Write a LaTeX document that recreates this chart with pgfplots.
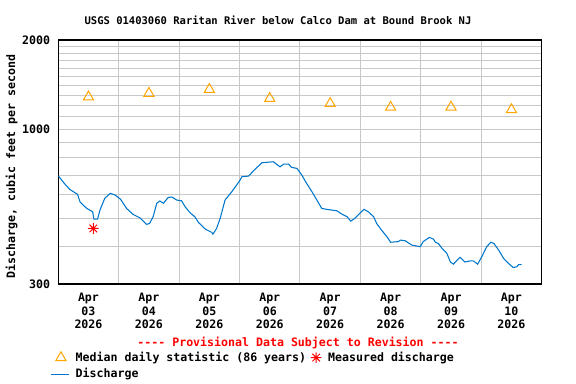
\documentclass[border=0pt]{standalone}
\usepackage{fontspec}
\setmainfont{DejaVu Sans Mono}[Ligatures=TeXOff]
\usepackage{pgfplots}
\pgfplotsset{compat=1.18}

\definecolor{qblue}{RGB}{0,119,204}
\definecolor{qorange}{RGB}{255,165,0}
\definecolor{qgrid}{RGB}{200,200,200}

% eight-armed star like the USGS measured-discharge symbol
\pgfdeclareplotmark{usgsstar}{%
  \pgfpathmoveto{\pgfqpoint{-\pgfplotmarksize}{0pt}}\pgfpathlineto{\pgfqpoint{\pgfplotmarksize}{0pt}}%
  \pgfpathmoveto{\pgfqpoint{0pt}{-\pgfplotmarksize}}\pgfpathlineto{\pgfqpoint{0pt}{\pgfplotmarksize}}%
  \pgfpathmoveto{\pgfpointpolar{45}{\pgfplotmarksize}}\pgfpathlineto{\pgfpointpolar{225}{\pgfplotmarksize}}%
  \pgfpathmoveto{\pgfpointpolar{135}{\pgfplotmarksize}}\pgfpathlineto{\pgfpointpolar{315}{\pgfplotmarksize}}%
  \pgfusepathqstroke}

\pgfplotsset{shortline/.style={legend image code/.code={\draw[qblue, line width=0.8pt] (0.05cm,0cm) -- (0.5cm,0cm);}}}

\newcommand{\gd}{\fontsize{8.7}{10}\selectfont\bfseries}

\begin{document}
\begin{tikzpicture}
\path[use as bounding box] (-43.7pt,-75pt) rectangle (388.3pt,213pt);
\begin{axis}[
    at={(0,0)}, anchor=south west,
    scale only axis, width=362.55pt, height=183pt,
    xmin=0, xmax=8,
    ymode=log, ymin=300, ymax=2000,
    xtick={0.5,1.5,2.5,3.5,4.5,5.5,6.5,7.5},
    xticklabels={{Apr\\03\\2026},{Apr\\04\\2026},{Apr\\05\\2026},{Apr\\06\\2026},
                 {Apr\\07\\2026},{Apr\\08\\2026},{Apr\\09\\2026},{Apr\\10\\2026}},
    minor xtick={1,2,3,4,5,6,7},
    ytick={300,1000,2000},
    yticklabels={300,1000,2000},
    minor ytick={400,500,600,700,800,900,1100,1200,1300,1400,1500,1600,1700,1800,1900},
    xminorgrids=true, yminorgrids=true, ymajorgrids=true, xmajorgrids=false,
    grid style={qgrid, line width=0.75pt},
    minor grid style={qgrid, line width=0.75pt},
    major tick length=0pt, minor tick length=0pt,
    axis line style={black, line width=0.9pt},
    tick label style={font=\gd},
    xticklabel style={align=center, inner sep=0pt, yshift=-6.8pt},
    yticklabel style={inner sep=0pt, xshift=-6pt},
    legend columns=2,
    legend cell align=left,
    legend style={draw=none, fill=none, font=\gd, inner sep=0pt,
                  at={(rel axis cs:-0.0158,-0.272)}, anchor=north west,
                  nodes={inner sep=0.5pt, text height=0.75em, text depth=0.2em},
                  row sep=2pt, column sep=0pt,
                  /tikz/column 1/.style={column sep=4.5pt},
                  /tikz/column 2/.style={column sep=3pt},
                  /tikz/column 3/.style={column sep=4.5pt}},
  ]

\addlegendimage{only marks, mark=triangle, qorange, mark size=4.4pt, mark options={line width=0.75pt}}
\addlegendentry{Median daily statistic (86 years)}
\addlegendimage{only marks, mark=usgsstar, red, mark size=4pt, mark options={line width=0.75pt}}
\addlegendentry{Measured discharge}
\addlegendimage{qblue, line width=0.8pt, shortline}
\addlegendentry{Discharge}

% Discharge (15-minute record, traced)
\addplot[qblue, line width=0.8pt, forget plot] table {
x y
0.00 696
0.11 652
0.19 626
0.32 602
0.36 568
0.47 540
0.57 526
0.59 497
0.65 497
0.69 533
0.77 584
0.86 607
0.94 599
1.03 580
1.13 540
1.24 515
1.35 502
1.46 477
1.51 480
1.57 506
1.63 562
1.68 572
1.74 562
1.82 588
1.88 590
1.96 576
2.04 573
2.10 547
2.18 522
2.26 506
2.32 484
2.43 460
2.54 448
2.56 442
2.62 462
2.68 500
2.76 576
2.87 614
3.00 668
3.04 691
3.15 694
3.23 723
3.37 770
3.56 776
3.67 746
3.73 762
3.81 762
3.86 743
3.95 737
4.03 700
4.11 656
4.20 614
4.28 576
4.36 540
4.44 536
4.61 530
4.69 517
4.78 506
4.84 489
4.91 500
5.00 522
5.06 536
5.13 526
5.22 506
5.27 480
5.35 456
5.44 433
5.50 415
5.63 417
5.66 422
5.74 420
5.85 406
5.99 401
6.04 417
6.14 431
6.21 425
6.24 415
6.29 411
6.35 396
6.43 381
6.49 356
6.54 350
6.60 361
6.65 369
6.73 356
6.82 359
6.87 359
6.94 350
7.01 371
7.09 401
7.16 415
7.21 411
7.29 390
7.37 366
7.45 352
7.53 341
7.59 343
7.62 349
7.67 349
};

% Median daily statistic
\addplot[only marks, mark=triangle, qorange, mark size=4.4pt, mark options={line width=0.75pt}, forget plot] table {
x y
0.5 1284
1.5 1321
2.5 1361
3.5 1269
4.5 1220
5.5 1185
6.5 1187
7.5 1163
};

% Measured discharge
\addplot[only marks, mark=usgsstar, red, mark size=4pt, mark options={line width=0.75pt}, forget plot] table {
x y
0.58 462
};
\end{axis}

\node[font=\fontsize{7.9}{9}\selectfont\bfseries] at (164.8pt,198pt) {USGS 01403060 Raritan River below Calco Dam at Bound Brook NJ};
\node[font=\gd, rotate=90] at (-34.95pt,88.1pt) {Discharge, cubic feet per second};
\node[font=\gd, text=red] at (179.8pt,-44pt) {---- Provisional Data Subject to Revision ----};
\end{tikzpicture}
\end{document}
